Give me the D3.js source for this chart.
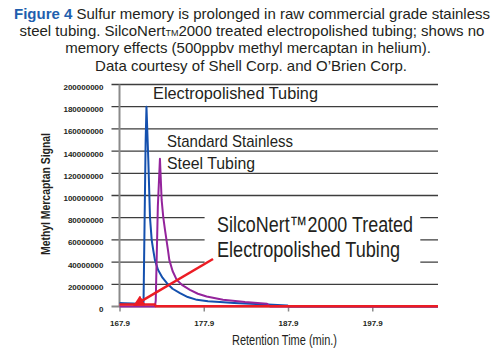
<!DOCTYPE html>
<html>
<head>
<meta charset="utf-8">
<script src="https://cdn.jsdelivr.net/npm/d3@7"></script>
<style>
  body { margin: 0; background: #fff; }
  text { font-family: "Liberation Sans", Arial, sans-serif; fill: #231f20; }
  .narrow { font-family: "Liberation Sans Narrow", "Liberation Sans", Arial, sans-serif; }
</style>
</head>
<body>
<div id="chart"></div>
<script>
// chart values
var xTicks = [167.9, 177.9, 187.9, 197.9]
var yTicks = [0, 20000000, 40000000, 60000000, 80000000, 100000000,
              120000000, 140000000, 160000000, 180000000, 200000000]

// electropolished tubing (blue)
var electroTime = [167.9, 168.5, 169.5, 170.5, 170.75, 171.0, 171.1, 171.32, 171.52, 171.72, 171.9, 172.1,
                   172.47, 173.0, 173.53, 174.2, 175.08, 176.0, 177.09, 178.4, 179.82, 181.5, 183.4,
                   185.5, 187.8, 188.0, 205.7]
var electroSignal = [3200000, 3000000, 2600000, 2200000, 2000000, 148000000, 180000000, 132000000, 80000000,
                     60000000, 51000000, 42000000, 33000000, 26000000, 21000000, 16000000, 12000000,
                     8500000, 6000000, 4800000, 4000000, 3200000, 2500000, 1700000, 1000000, 0, 0]

// standard stainless steel tubing (purple)
var standardTime = [167.9, 172.1, 172.2, 172.45, 172.7, 172.9, 173.1, 173.3, 173.65, 173.81, 174.2, 174.69,
                    175.4, 176.26, 177.2, 178.24, 180.18, 182.8, 185.4, 185.8, 205.7]
var standardSignal = [0, 0, 5000000, 90000000, 133000000, 96000000, 80000000, 69000000, 51000000, 42000000,
                      32000000, 24000000, 19000000, 15000000, 11500000, 9000000, 6000000, 4000000,
                      2500000, 0, 0]

// SilcoNert 2000 treated tubing (red)
var silcoTime = [167.9, 172.1, 172.2, 205.7]
var silcoSignal = [1800000, 1800000, 300000, 300000]

// arrow pointing at the red trace: [time, signal] from -> to
var arrowFrom = [179.0, 42800000]
var arrowTo = [169.74, 1500000]

var margin = {top: 84.5, right: 62, bottom: 46.5, left: 119.5},
    width = 500 - margin.left - margin.right,
    height = 353 - margin.top - margin.bottom

var svg = d3.select('#chart')
  .append('svg')
  .attr('width', 500)
  .attr('height', 353)

// caption
var cap = svg.append('g').attr('font-size', 15).attr('text-anchor', 'middle')
var l1 = cap.append('text').attr('x', 252).attr('y', 19)
l1.append('tspan').attr('font-weight', 'bold').style('fill', '#1f5fae').text('Figure 4')
l1.append('tspan').text(' Sulfur memory is prolonged in raw commercial grade stainless')
var l2 = cap.append('text').attr('x', 252).attr('y', 36)
l2.append('tspan').text('steel tubing. SilcoNert')
l2.append('tspan').attr('font-size', 9).text('TM')
l2.append('tspan').text('2000 treated electropolished tubing; shows no')
cap.append('text').attr('x', 248).attr('y', 53).text('memory effects (500ppbv methyl mercaptan in helium).')
cap.append('text').attr('x', 251).attr('y', 71).text('Data courtesy of Shell Corp. and O\u2019Brien Corp.')

var g = svg.append('g')
  .attr('transform', 'translate(' + margin.left + ',' + margin.top + ')')

var x = d3.scaleLinear().domain([167.9, 205.7]).range([0, width])
var y = d3.scaleLinear().domain([0, 200000000]).range([height, 0])

// horizontal grid lines (they stick out left of the axis like ticks)
g.append('g')
  .selectAll('line')
  .data(yTicks.slice(1))
  .enter()
  .append('line')
  .attr('x1', -8)
  .attr('x2', width)
  .attr('y1', function (d) { return y(d) })
  .attr('y2', function (d) { return y(d) })
  .attr('stroke', '#3d3d3d')
  .attr('stroke-width', 1.3)

// y tick labels
g.append('g')
  .selectAll('text')
  .data(yTicks)
  .enter()
  .append('text')
  .attr('x', -16)
  .attr('y', function (d) { return y(d) + 5.5 })
  .attr('text-anchor', 'end')
  .attr('font-size', 8)
  .attr('font-weight', 'bold')
  .text(function (d) { return d3.format('d')(d) })

// y axis line
g.append('line')
  .attr('x1', 0).attr('x2', 0)
  .attr('y1', y(200000000)).attr('y2', height)
  .attr('stroke', '#8a8a8a')
  .attr('stroke-width', 2)

// x axis, grey with short ticks
var xAxis = g.append('g')
  .attr('transform', 'translate(0,' + height + ')')
  .call(d3.axisBottom(x).tickValues(xTicks).tickSize(5).tickSizeOuter(0).tickFormat(d3.format('.1f')))
xAxis.select('.domain').attr('stroke', '#8a8a8a').attr('stroke-width', 2).attr('d', 'M-8,0H' + width)
xAxis.selectAll('.tick line').attr('stroke', '#8a8a8a').attr('stroke-width', 1.5)
xAxis.selectAll('.tick text')
  .attr('font-size', 8)
  .attr('font-weight', 'bold')
  .attr('font-family', '"Liberation Sans", Arial, sans-serif')
  .attr('y', 14)
  .style('fill', '#231f20')

// axis titles
svg.append('text')
  .attr('class', 'narrow')
  .attr('transform', 'translate(50,194) rotate(-90)')
  .attr('text-anchor', 'middle')
  .attr('font-size', 12.5)
  .attr('font-weight', 'bold')
  .attr('textLength', 122)
  .attr('lengthAdjust', 'spacingAndGlyphs')
  .text('Methyl Mercaptan Signal')

svg.append('text')
  .attr('class', 'narrow')
  .attr('x', 232)
  .attr('y', 345)
  .attr('font-size', 14.5)
  .attr('textLength', 105)
  .attr('lengthAdjust', 'spacingAndGlyphs')
  .text('Retention Time (min.)')

// white box behind the SilcoNert label
g.append('rect')
  .attr('x', x(178.0))
  .attr('y', y(91000000))
  .attr('width', x(203.6) - x(178.0))
  .attr('height', y(38000000) - y(91000000))
  .attr('fill', '#fff')

// series lines
var line = d3.line()
  .x(function (d) { return x(d[0]) })
  .y(function (d) { return y(d[1]) })

function drawSeries (times, values, colour, w) {
  g.append('path')
    .datum(d3.zip(times, values))
    .attr('fill', 'none')
    .attr('stroke', colour)
    .attr('stroke-width', w)
    .attr('stroke-linejoin', 'round')
    .attr('d', line)
}

drawSeries(electroTime, electroSignal, '#1450ae', 2)
drawSeries(standardTime, standardSignal, '#94249c', 2)
drawSeries(silcoTime, silcoSignal, '#ec1c24', 2.5)

// labels on the plot
function label (txt, px, py, size, len) {
  svg.append('text')
    .attr('class', 'narrow')
    .attr('x', px)
    .attr('y', py)
    .attr('font-size', size)
    .attr('textLength', len)
    .attr('lengthAdjust', 'spacingAndGlyphs')
    .text(txt)
}
label('Electropolished Tubing', 153, 99, 17, 165)
label('Standard Stainless', 167, 147, 17, 126)
label('Steel Tubing', 167, 169, 17, 88)
label('SilcoNert\u21222000 Treated', 217, 232, 22, 196)
label('Electropolished Tubing', 217, 257, 22, 183)

// red arrow
svg.append('defs').append('marker')
  .attr('id', 'head')
  .attr('viewBox', '0 0 10 10')
  .attr('refX', 8).attr('refY', 5)
  .attr('markerWidth', 4.5).attr('markerHeight', 4.5)
  .attr('orient', 'auto')
  .append('path')
  .attr('d', 'M0,0L10,5L0,10z')
  .attr('fill', '#ec1c24')

g.append('line')
  .attr('x1', x(arrowFrom[0])).attr('y1', y(arrowFrom[1]))
  .attr('x2', x(arrowTo[0])).attr('y2', y(arrowTo[1]))
  .attr('stroke', '#ec1c24')
  .attr('stroke-width', 2.5)
  .attr('marker-end', 'url(#head)')
</script>
</body>
</html>
